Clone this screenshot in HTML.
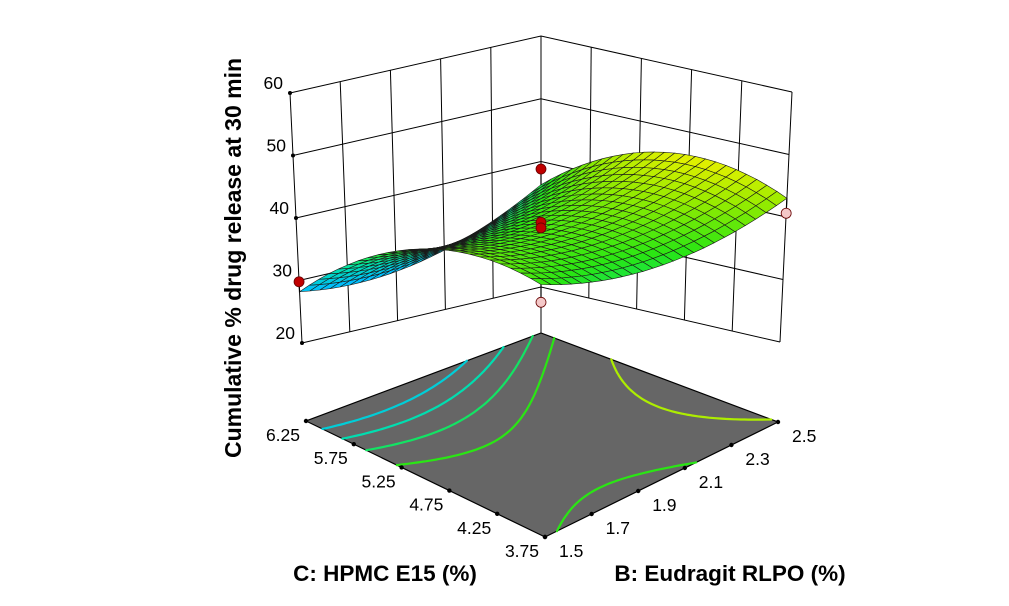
<!DOCTYPE html>
<html><head><meta charset="utf-8">
<style>
html,body{margin:0;padding:0;background:#fff;}
svg{display:block;font-family:"Liberation Sans",sans-serif;}
</style></head>
<body>
<svg id="chart" width="1009" height="606" viewBox="0 0 1009 606" xmlns="http://www.w3.org/2000/svg">
<g id="walls"></g>
<g id="floor"></g>
<g id="surf"></g>
<g id="pts"></g>
<g id="labels" font-size="17.5" fill="#000"></g>
<text transform="translate(241,258) rotate(-90)" text-anchor="middle" font-size="23" font-weight="bold">Cumulative % drug release at 30 min</text>
<text x="385" y="581" text-anchor="middle" font-size="22.5" font-weight="bold">C: HPMC E15 (%)</text>
<text x="730" y="581" text-anchor="middle" font-size="22.5" font-weight="bold">B: Eudragit RLPO (%)</text>
</svg>
<script>
// data
const cTicks = ["3.75","4.25","4.75","5.25","5.75","6.25"];
const bTicks = ["1.5","1.7","1.9","2.1","2.3","2.5"];
const zTicks = [20,30,40,50,60];
// quadratic model coefficients (coded units): a0, aC, aB, aCB, aCC, aBB
const modelCoefficients = [39, -4.25, 3.15, 0.9, -6.25, 3.75];
// design points: coded c, coded b, response, above surface?
const designC = [1, 1, -1, 0, 0, -1];
const designB = [-1, 1, 1, 0, 0, -1];
const designZ = [29.8, 38.8, 40.6, 39.3, 38.4, 35.7];
const designAbove = [1, 1, 0, 1, 1, 0];
const contourLevels = [30.5, 33, 35.5, 38, 43.5];

const NS = "http://www.w3.org/2000/svg";
const Z0 = 20, Z1 = 60;
const C20 = {F:[541,402], L:[302,343], R:[780,342], K:[541,287]};
const C60 = {F:[541,148], L:[290,93], R:[792,92], K:[541,36]};
const CFL = {F:[545,537], L:[306,421], R:[778,422], K:[541,333]};
function bil(S, c, b){
  const u=(c+1)/2, v=(b+1)/2;
  return [0,1].map(i=>S.F[i]*(1-u)*(1-v)+S.L[i]*u*(1-v)+S.R[i]*(1-u)*v+S.K[i]*u*v);
}
function P(c,b,z){
  const a=bil(C20,c,b), t=bil(C60,c,b), f=(z-Z0)/(Z1-Z0);
  return [a[0]+(t[0]-a[0])*f, a[1]+(t[1]-a[1])*f];
}
function PF(c,b){ return bil(CFL,c,b); }
function model(c,b){
  const m=modelCoefficients;
  return m[0]+m[1]*c+m[2]*b+m[3]*c*b+m[4]*c*c+m[5]*b*b;
}
function el(tag, attrs, parent){
  const e=document.createElementNS(NS,tag);
  for(const k in attrs) e.setAttribute(k,attrs[k]);
  parent.appendChild(e); return e;
}
const zmin=28, zmax=46;
function color(z){
  let t=Math.max(0,Math.min(1,(z-zmin)/(zmax-zmin)));
  const stops=[[0,[0,190,255]],[0.3,[0,225,170]],[0.55,[40,230,20]],[0.8,[150,235,0]],[1,[225,240,0]]];
  for(let i=0;i<stops.length-1;i++){
    const [t0,c0]=stops[i],[t1,c1]=stops[i+1];
    if(t<=t1){const f=(t-t0)/(t1-t0);return "rgb("+c0.map((x,j)=>Math.round(x+(c1[j]-x)*f)).join(",")+")";}
  }
  return "rgb(225,240,0)";
}
const pstr=a=>a.map(p=>p[0].toFixed(1)+","+p[1].toFixed(1)).join(" ");

const walls=document.getElementById("walls");
const wst={stroke:"#000","stroke-width":"1",fill:"none"};
for(let i=0;i<bTicks.length;i++){
  const b=-1+2*i/(bTicks.length-1);
  const a=P(1,b,Z0), t=P(1,b,Z1);
  const l=el("line",Object.assign({x1:a[0],y1:a[1],x2:t[0],y2:t[1]},wst),walls);
  
  
}
for(let i=0;i<cTicks.length;i++){
  const c=-1+2*i/(cTicks.length-1);
  const a=P(c,1,Z0), t=P(c,1,Z1);
  const l=el("line",Object.assign({x1:a[0],y1:a[1],x2:t[0],y2:t[1]},wst),walls);
  
  
}
zTicks.forEach(z=>{
  const l=el("polyline",Object.assign({points:pstr([P(1,-1,z),P(1,1,z),P(-1,1,z)])},wst),walls);
  
  
});
el("line",Object.assign({x1:C20.K[0],y1:C20.K[1],x2:CFL.K[0],y2:CFL.K[1]},wst),walls);

const lab=document.getElementById("labels");
zTicks.forEach(z=>{
  const p=P(1,-1,z);
  const t=el("text",{x:p[0]-7,y:p[1]-4,"text-anchor":"end"},lab); t.textContent=z;
  
  
  el("circle",{cx:p[0],cy:p[1],r:2,fill:"#000"},walls);
});
cTicks.forEach((s,i)=>{
  const c=-1+2*i/(cTicks.length-1);
  const p=PF(c,-1);
  const t=el("text",{x:p[0]-6,y:p[1]+20,"text-anchor":"end"},lab); t.textContent=s;
  
  
});
bTicks.forEach((s,i)=>{
  const b=-1+2*i/(bTicks.length-1);
  const p=PF(-1,b);
  const t=el("text",{x:p[0]+14,y:p[1]+20,"text-anchor":"start"},lab); t.textContent=s;
  
  
});

const floor=document.getElementById("floor");
el("polygon",{points:pstr([PF(-1,-1),PF(1,-1),PF(1,1),PF(-1,1)]),fill:"#666666",stroke:"#000","stroke-width":"1.2"},floor);
const N=60;
const g=[];
for(let i=0;i<=N;i++){g.push([]);for(let j=0;j<=N;j++)g[i].push(model(-1+2*i/N,-1+2*j/N));}
contourLevels.forEach(L=>{
  let d="";
  for(let i=0;i<N;i++)for(let j=0;j<N;j++){
    const cs=[[i,j],[i+1,j],[i+1,j+1],[i,j+1]];
    const pts=[];
    for(let k=0;k<4;k++){
      const a=cs[k],b=cs[(k+1)%4];
      const va=g[a[0]][a[1]],vb=g[b[0]][b[1]];
      if((va-L)*(vb-L)<0){
        const f=(L-va)/(vb-va);
        const ci=a[0]+(b[0]-a[0])*f, cj=a[1]+(b[1]-a[1])*f;
        pts.push(PF(-1+2*ci/N,-1+2*cj/N));
      }
    }
    if(pts.length>=2) d+="M"+pts[0][0].toFixed(1)+","+pts[0][1].toFixed(1)+"L"+pts[1][0].toFixed(1)+","+pts[1][1].toFixed(1);
  }
  const p=el("path",{d:d,stroke:color(L),"stroke-width":"2.2",fill:"none","stroke-linecap":"round"},floor);
  
  
});
cTicks.forEach((s,i)=>{const p=PF(-1+2*i/5,-1);el("circle",{cx:p[0],cy:p[1],r:2.2,fill:"#000"},floor);});
bTicks.forEach((s,i)=>{const p=PF(-1,-1+2*i/5);el("circle",{cx:p[0],cy:p[1],r:2.2,fill:"#000"},floor);});

const ptsG=document.getElementById("pts");
function drawPoint(k,parent){
  const p=P(designC[k],designB[k],designZ[k]);
  const s=P(designC[k],designB[k],model(designC[k],designB[k]));
  el("line",{x1:p[0],y1:p[1],x2:s[0],y2:s[1],stroke:"#000","stroke-width":"1.2"},parent);
  const c=el("circle",{cx:p[0],cy:p[1],r:5,fill:designAbove[k]?"#c00000":"#f4c8c8",stroke:"#600","stroke-width":"0.8"},parent);
  
  
}
const surf=document.getElementById("surf");
for(let k=0;k<designZ.length;k++) if(!designAbove[k]) drawPoint(k,surf);

const M=24, quads=[];
for(let i=0;i<M;i++)for(let j=0;j<M;j++){
  const c0=-1+2*i/M,c1=-1+2*(i+1)/M,b0=-1+2*j/M,b1=-1+2*(j+1)/M;
  const zs=[model(c0,b0),model(c1,b0),model(c1,b1),model(c0,b1)];
  quads.push({d:(c0+c1)/2+(b0+b1)/2, pts:[P(c0,b0,zs[0]),P(c1,b0,zs[1]),P(c1,b1,zs[2]),P(c0,b1,zs[3])], z:(zs[0]+zs[1]+zs[2]+zs[3])/4});
}
quads.sort((a,b)=>b.d-a.d);
quads.forEach(q=>{
  const p=el("polygon",{points:pstr(q.pts),fill:color(q.z),stroke:"#1a1a1a","stroke-width":"0.6"},surf);
  
  
});
for(let k=0;k<designZ.length;k++) if(designAbove[k]) drawPoint(k,ptsG);
</script>
</body></html>
